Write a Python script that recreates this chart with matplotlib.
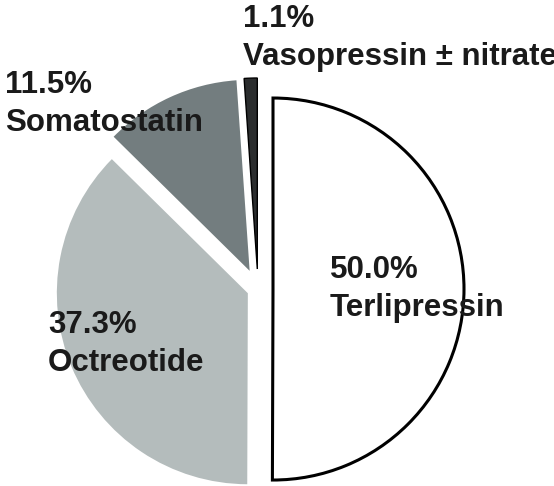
import matplotlib.pyplot as plt

# Share of vasoactive drugs used
drugs = ['Terlipressin', 'Octreotide', 'Somatostatin', 'Vasopressin \u00b1 nitrate']
shares = [50.0, 37.3, 11.5, 1.1]

colors = ['white', '#b4bcbc', '#737d7f', '#2b2d2e']
explode = [15, 11, 20, 20]

plt.rcParams['font.family'] = ['Liberation Sans', 'DejaVu Sans']

fig = plt.figure(figsize=(5.54, 4.86), dpi=100)
# axes in pixel units so the pie sits where it does in the original
ax = fig.add_axes([0, 0, 1, 1])

wedges, _ = ax.pie(shares, colors=colors, explode=explode, startangle=90,
                   counterclock=False, radius=191, center=(258, 197),
                   frame=True)
ax.set_xlim(0, 554)
ax.set_ylim(0, 486)
ax.set_aspect('auto')
ax.axis('off')

wedges[0].set_edgecolor('black')
wedges[0].set_linewidth(2.2)
wedges[3].set_edgecolor('black')
wedges[3].set_linewidth(1.0)

# label positions (left x, baseline of percentage line, from top)
label_pos = [(330, 278), (48, 333), (5, 93), (243, 27)]
line_gap = 38

for name, val, (x, y) in zip(drugs, shares, label_pos):
    ax.text(x, 486 - y, f'{val:.1f}%', fontsize=22.5, fontweight='bold',
            color='#1a1a1a', va='baseline', ha='left')
    ax.text(x, 486 - y - line_gap, name, fontsize=22.5, fontweight='bold',
            color='#1a1a1a', va='baseline', ha='left')

plt.savefig('out.png', dpi=100)
